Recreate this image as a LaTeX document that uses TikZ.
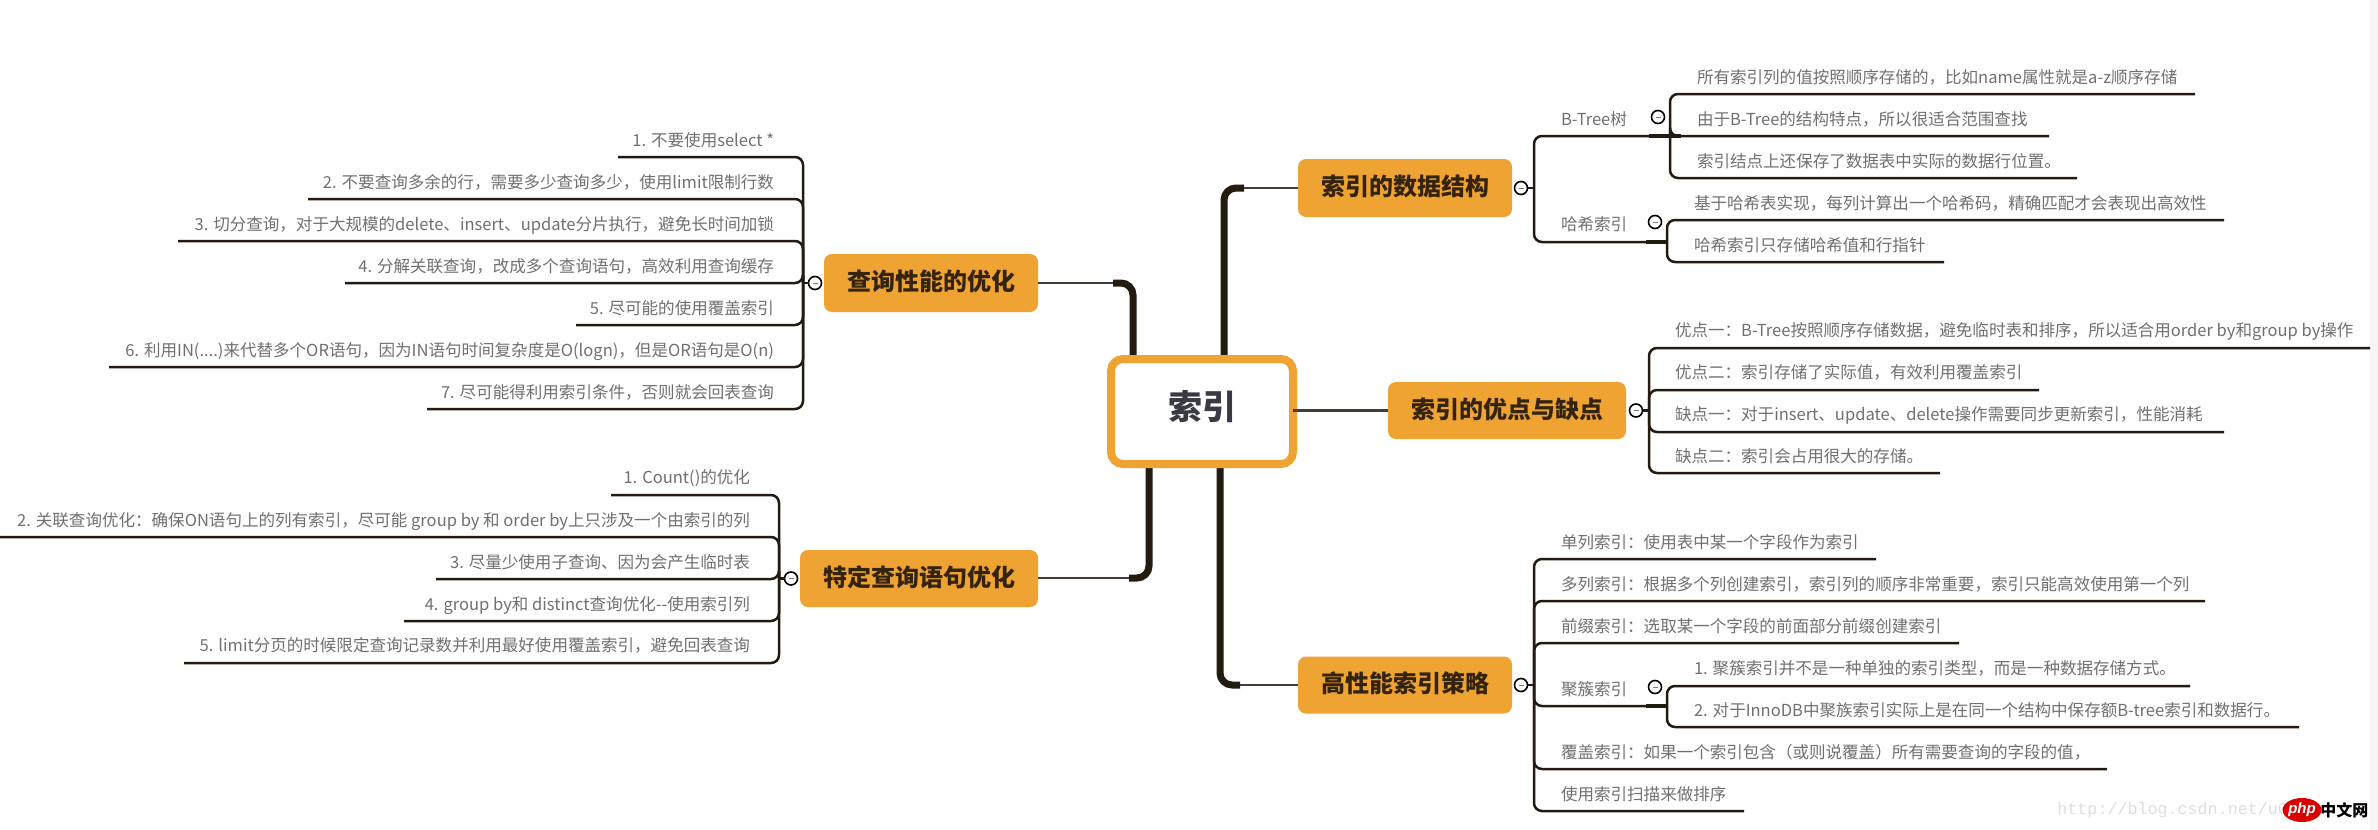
\documentclass[tikz,border=0pt]{standalone}
\usepackage{fontspec}
\setmainfont{Noto Sans CJK SC}
\newfontfamily\markfont{Liberation Mono}
\newfontfamily\logofont{Liberation Sans}
\usetikzlibrary{shapes.geometric}
\definecolor{ink}{HTML}{231A10}
\definecolor{amber}{HTML}{EEA333}
\definecolor{leafgray}{HTML}{707070}
\definecolor{topicink}{HTML}{33230F}
\definecolor{rootink}{HTML}{3A3A45}
\tikzset{
  leaf/.style={inner sep=0pt,outer sep=0pt,text=leafgray,font=\fontsize{8.27pt}{10pt}\selectfont,text height=.88em,text depth=.12em},
  sublabel/.style={leaf,anchor=west},
  topic/.style={fill=amber,rounded corners=4pt,inner sep=0pt,outer sep=0pt,text=topicink,font=\fontsize{12pt}{14pt}\selectfont\bfseries,text height=.88em,text depth=.12em},
  central/.style={draw=amber,line width=4pt,fill=white,rounded corners=6pt,inner sep=0pt,outer sep=0pt,minimum width=91pt,minimum height=52.5pt,text=rootink,font=\fontsize{17pt}{20pt}\selectfont\bfseries,text height=.88em,text depth=.12em},
  branch/.style={draw=ink,line width=1.25pt,rounded corners=4pt},
  stub/.style={draw=ink,line width=1.7pt},
  trunk/.style={draw=ink,line width=3.5pt,rounded corners=6pt},
  thinlink/.style={draw=ink!85,line width=1.1pt},
  toggle/.style={circle,draw=black,line width=.8pt,fill=white,minimum size=6.5pt,inner sep=0pt,outer sep=0pt},
}
\newcommand{\rleaf}[7]{%
  \node[leaf,anchor=west] (#1) at (#3,#4) {#7};
  \coordinate (#1e) at (#6,#5);
  \draw[branch] (#2) |- (#1e);}
\newcommand{\lleaf}[7]{%
  \node[leaf,anchor=east] (#1) at (#3,#4) {#7};
  \coordinate (#1e) at (#6,#5);
  \draw[branch] (#2) |- (#1e);}
\newcommand{\minusmark}{\textcolor{gray}{\rule{2.5pt}{.5pt}}}
\begin{document}
\begin{tikzpicture}[x=.5pt,y=-.5pt]
\useasboundingbox (0,0) rectangle (2378,830);
\fill[white] (0,0) rectangle (2378,830);
\fill[black!4] (2370,0) rectangle (2378,830);

% trunks (under the nodes)
\coordinate (ta) at (1224,360);
\coordinate (tak) at (1244,188);
\coordinate (tb) at (1133,360);
\coordinate (tbk) at (1113,283);
\coordinate (tc) at (1220,462);
\coordinate (tck) at (1240,685);
\coordinate (td) at (1149,462);
\coordinate (tdk) at (1129,578);
\draw[trunk] (ta) |- (tak);
\draw[trunk] (tb) |- (tbk);
\draw[trunk] (tc) |- (tck);
\draw[trunk] (td) |- (tdk);

% central and topics
\node[central] (root) at (1202,411.5) {索引};
\node[topic,minimum width=107pt,minimum height=29pt] (ds) at (1405,188) {索引的数据结构};
\node[topic,minimum width=119pt,minimum height=28.5pt] (pc) at (1507,410.5) {索引的优点与缺点};
\node[topic,minimum width=107pt,minimum height=28.5pt] (hp) at (1405,685) {高性能索引策略};
\node[topic,minimum width=107pt,minimum height=29pt] (qo) at (931,283) {查询性能的优化};
\node[topic,minimum width=119pt,minimum height=28.5pt] (sq) at (919,578.5) {特定查询语句优化};

\draw[thinlink] (tak) -- (ds.west |- tak);
\draw[thinlink] (tbk) -- (qo.east |- tbk);
\draw[thinlink] (tck) -- (hp.west |- tck);
\draw[thinlink] (tdk) -- (sq.east |- tdk);
\draw[thinlink] (root.east |- pc.west) -- (pc.west);

% toggles and junctions
\coordinate (dsj) at (1534,188);
\coordinate (pcj) at (1649,410.5);
\coordinate (hpj) at (1534,685);
\coordinate (qoj) at (803,283);
\coordinate (sqj) at (779,578.5);
\node[toggle] (dst) at (1521,188) {\minusmark};
\node[toggle] (pct) at (1636,410.5) {\minusmark};
\node[toggle] (hpt) at (1521,685) {\minusmark};
\node[toggle] (qot) at (815,283) {\minusmark};
\node[toggle] (sqt) at (791,578.5) {\minusmark};
\draw[branch] (dst) -- (dsj);
\draw[branch] (pct) -- (pcj);
\draw[branch] (hpt) -- (hpj);
\draw[branch] (qot) -- (qoj);
\draw[branch] (sqt) -- (sqj);

% data structures
\node[sublabel] (bt) at (1561,118) {B-Tree树};
\node[toggle] (btt) at (1658,117) {\minusmark};
\coordinate (btj) at (1670,136);
\coordinate (bts) at (1649,136);
\coordinate (btx) at (1681,136);
\draw[branch] (dsj) |- (btj);
\draw[stub] (bts) -- (btx);
\rleaf{b1}{btj}{1697}{76}{94}{2195}{所有索引列的值按照顺序存储的，比如name属性就是a-z顺序存储}
\rleaf{b2}{btj}{1697}{118}{136}{2049}{由于B-Tree的结构特点，所以很适合范围查找}
\rleaf{b3}{btj}{1697}{160}{178}{2077}{索引结点上还保存了数据表中实际的数据行位置。}
\node[sublabel] (hs) at (1561,223) {哈希索引};
\node[toggle] (hst) at (1655,222) {\minusmark};
\coordinate (hsj) at (1667,242);
\coordinate (hss) at (1646,242);
\draw[branch] (dsj) |- (hsj);
\draw[stub] (hss) -- (hsj);
\rleaf{h1}{hsj}{1694}{202}{220}{2224}{基于哈希表实现，每列计算出一个哈希码，精确匹配才会表现出高效性}
\rleaf{h2}{hsj}{1694}{244}{262}{1944}{哈希索引只存储哈希值和行指针}

% pros and cons
\rleaf{p1}{pcj}{1675}{329}{348}{2370}{优点一：B-Tree按照顺序存储数据，避免临时表和排序，所以适合用order by和group by操作}
\rleaf{p2}{pcj}{1675}{371}{390}{2039}{优点二：索引存储了实际值，有效利用覆盖索引}
\rleaf{p3}{pcj}{1675}{413}{432}{2224}{缺点一：对于insert、update、delete操作需要同步更新索引，性能消耗}
\rleaf{p4}{pcj}{1675}{455}{473}{1940}{缺点二：索引会占用很大的存储。}

% strategies
\rleaf{s1}{hpj}{1561}{541}{559}{1876}{单列索引：使用表中某一个字段作为索引}
\rleaf{s2}{hpj}{1561}{583}{601}{2205}{多列索引：根据多个列创建索引，索引列的顺序非常重要，索引只能高效使用第一个列}
\rleaf{s3}{hpj}{1561}{625}{643}{1959}{前缀索引：选取某一个字段的前面部分前缀创建索引}
\node[sublabel] (cl) at (1561,688) {聚簇索引};
\node[toggle] (clt) at (1655,687) {\minusmark};
\coordinate (clj) at (1667,706);
\coordinate (cls) at (1646,706);
\draw[branch] (hpj) |- (clj);
\draw[stub] (cls) -- (clj);
\rleaf{c1}{clj}{1694}{667}{686}{2190}{1. 聚簇索引并不是一种单独的索引类型，而是一种数据存储方式。}
\rleaf{c2}{clj}{1694}{709}{727}{2299}{2. 对于InnoDB中聚族索引实际上是在同一个结构中保存额B-tree索引和数据行。}
\rleaf{s5}{hpj}{1561}{751}{769}{2107}{覆盖索引：如果一个索引包含（或则说覆盖）所有需要查询的字段的值，}
\rleaf{s6}{hpj}{1561}{793}{811}{1744}{使用索引扫描来做排序}

% query optimisation
\lleaf{q1}{qoj}{774}{139}{157}{618}{1. 不要使用select *}
\lleaf{q2}{qoj}{774}{181}{199}{308}{2. 不要查询多余的行，需要多少查询多少，使用limit限制行数}
\lleaf{q3}{qoj}{774}{223}{241}{178}{3. 切分查询，对于大规模的delete、insert、update分片执行，避免长时间加锁}
\lleaf{q4}{qoj}{774}{265}{283}{345}{4. 分解关联查询，改成多个查询语句，高效利用查询缓存}
\lleaf{q5}{qoj}{774}{307}{325}{576}{5. 尽可能的使用覆盖索引}
\lleaf{q6}{qoj}{774}{349}{367}{109}{6. 利用IN(....)来代替多个OR语句，因为IN语句时间复杂度是O(logn)，但是OR语句是O(n)}
\lleaf{q7}{qoj}{774}{391}{409}{427}{7. 尽可能得利用索引条件，否则就会回表查询}

% specific statements
\lleaf{r1}{sqj}{750}{476}{495}{611}{1. Count()的优化}
\lleaf{r2}{sqj}{750}{519}{537}{0}{2. 关联查询优化：确保ON语句上的列有索引，尽可能 group by 和 order by上只涉及一个由索引的列}
\lleaf{r3}{sqj}{750}{561}{579}{436}{3. 尽量少使用子查询、因为会产生临时表}
\lleaf{r4}{sqj}{750}{603}{621}{404}{4. group by和 distinct查询优化-{}-使用索引列}
\lleaf{r5}{sqj}{750}{644}{663}{184}{5. limit分页的时候限定查询记录数并利用最好使用覆盖索引，避免回表查询}

% watermark
\node[anchor=west,inner sep=0pt,text=black!13,font=\markfont\fontsize{8.35pt}{10pt}\selectfont] (wm) at (2057,810) {http://blog.csdn.net/u0};
\node[ellipse,fill=red!85!black,minimum width=15.5pt,minimum height=12pt,inner sep=0pt,text=white,font=\logofont\fontsize{7.5pt}{9pt}\selectfont\bfseries\itshape] (lg) at (2302,810) {php};
\node[anchor=west,inner sep=0pt,text=black,font=\fontsize{8pt}{10pt}\selectfont\bfseries] (lt) at (2320,810) {中文网};
\end{tikzpicture}
\end{document}
